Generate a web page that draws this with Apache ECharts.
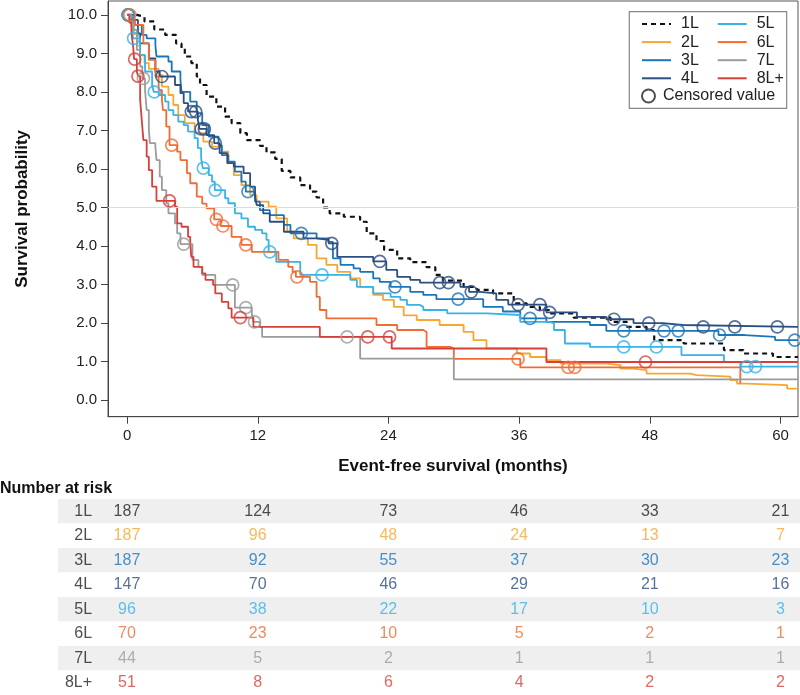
<!DOCTYPE html>
<html>
<head>
<meta charset="utf-8">
<script src="https://cdn.jsdelivr.net/npm/echarts@6/dist/echarts.min.js"></script>
<style>html,body{margin:0;padding:0;background:#fff;}#chart{width:800px;height:695px;}</style>
</head>
<body>
<div id="chart"></div>
<script>
// ---------- data ----------
const groups = ['1L','2L','3L','4L','5L','6L','7L','8L+'];
const xTicks = [0,12,24,36,48,60];
const yTicks = [0,1,2,3,4,5,6,7,8,9,10];

const km1L = [[0,10],[0.9,9.95],[1.6,9.83],[2.5,9.62],[3.5,9.48],[4.5,9.26],[5.0,9.13],[5.3,8.92],[5.9,8.75],[6.4,8.4],[6.7,8.18],[7.3,7.88],[8.2,7.62],[9.0,7.36],[9.6,7.19],[10.4,6.93],[11.0,6.75],[12.2,6.6],[12.8,6.43],[13.6,6.26],[14.2,5.95],[15.0,5.78],[15.9,5.58],[16.8,5.41],[17.4,5.26],[18.0,5.0],[18.6,4.85],[19.9,4.76],[21.4,4.63],[22.0,4.33],[22.9,4.13],[23.6,3.9],[24.8,3.68],[26.0,3.58],[27.5,3.45],[28.3,3.25],[29.0,3.1],[30.9,2.94],[32.1,2.86],[33.6,2.77],[35.5,2.51],[36.7,2.42],[37.9,2.34],[38.8,2.25],[41.0,2.14],[44.4,2.03],[45.9,1.9],[47.7,1.82],[48.4,1.56],[51.1,1.47],[54.8,1.30],[56.6,1.21],[59.3,1.12],[61.6,1.12]];
const km2L = [[0,10],[0.3,9.8],[0.6,9.5],[0.9,9.2],[1.2,8.95],[1.6,8.75],[2.0,8.6],[2.9,8.44],[3.2,8.14],[3.8,7.92],[4.25,7.66],[4.7,7.4],[5.3,7.19],[6.2,6.93],[7.0,6.71],[7.8,6.58],[8.7,6.45],[9.3,6.15],[9.8,5.84],[10.5,5.58],[11.3,5.32],[11.9,5.15],[13.0,5.02],[13.7,4.72],[14.7,4.37],[15.3,4.2],[16.6,4.03],[17.4,3.68],[18.3,3.51],[19.3,3.33],[20.5,3.16],[21.4,2.94],[22.6,2.73],[23.5,2.6],[24.5,2.42],[25.4,2.2],[26.6,2.08],[28.7,1.95],[30.9,1.77],[31.8,1.56],[33.0,1.34],[35.8,1.21],[37.0,1.12],[38.5,1.04],[39.8,0.95],[44.0,0.91],[45.3,0.82],[46.5,0.78],[47.7,0.69],[51.7,0.65],[52.3,0.61],[55.4,0.52],[56.0,0.43],[56.9,0.39],[60.6,0.3],[61.6,0.3]];
const km3L = [[0,10],[0.4,9.85],[0.7,9.74],[1.35,9.48],[1.8,9.39],[2.6,9.22],[2.7,8.92],[3.8,8.79],[4.1,8.53],[4.9,8.31],[5.0,8.0],[5.8,7.75],[6.4,7.45],[6.9,7.14],[7.5,6.84],[8.4,6.62],[8.7,6.36],[9.3,6.19],[9.9,5.93],[10.5,5.67],[10.9,5.41],[11.75,5.15],[12.2,4.93],[13.1,4.8],[14.4,4.55],[15.0,4.33],[17.4,4.2],[18.5,4.11],[18.9,3.68],[19.6,3.51],[20.8,3.42],[21.4,3.33],[22.6,3.16],[23.2,3.07],[24.2,2.94],[26.0,2.81],[27.2,2.73],[28.4,2.62],[32.7,2.42],[34.5,2.3],[36.1,2.12],[38.5,2.03],[42.5,1.95],[44.0,1.8],[54.3,1.69],[56.7,1.64],[59.5,1.56],[61.6,1.56]];
const km4L = [[0,10],[0.6,9.87],[1.0,9.52],[1.2,9.26],[2.0,8.87],[2.6,8.53],[3.0,8.4],[4.4,8.18],[4.9,7.97],[5.2,7.71],[5.6,7.49],[6.5,7.27],[6.65,7.04],[7.3,6.88],[8.0,6.67],[8.5,6.41],[9.2,6.15],[9.8,6.06],[10.7,5.89],[11.3,5.54],[11.75,5.28],[11.9,5.06],[12.5,4.85],[13.1,4.63],[14.4,4.37],[16.2,4.2],[17.4,4.16],[18.5,4.07],[19.3,3.72],[22.6,3.6],[23.8,3.38],[24.8,3.2],[26.0,3.12],[26.9,3.05],[30.6,2.94],[31.4,2.81],[32.4,2.77],[33.9,2.6],[35.0,2.48],[38.5,2.28],[41.3,2.16],[44.0,2.1],[46.5,2.0],[49.2,1.95],[51.0,1.9],[61.6,1.9]];
const km5L = [[0,10],[0.4,9.74],[0.55,9.39],[1.2,8.96],[1.65,8.53],[2.3,8.18],[2.45,8.0],[2.9,7.92],[3.5,7.75],[3.8,7.53],[4.25,7.4],[4.7,7.23],[5.2,7.14],[5.6,6.97],[6.2,6.8],[6.5,6.54],[6.8,6.28],[6.95,6.02],[7.5,5.84],[7.8,5.67],[8.05,5.45],[9.0,5.24],[9.3,5.11],[9.9,4.85],[10.5,4.72],[11.1,4.5],[11.75,4.42],[12.4,4.33],[12.8,4.16],[13.0,3.85],[13.7,3.59],[15.9,3.25],[20.5,3.12],[21.1,2.94],[22.6,2.77],[24.2,2.68],[25.1,2.6],[25.7,2.47],[26.9,2.42],[27.2,2.34],[29.4,2.25],[33.0,2.21],[36.1,2.03],[38.8,1.99],[39.2,1.82],[40.2,1.47],[42.5,1.38],[50.9,1.17],[54.8,0.99],[56.3,0.87],[61.6,0.87]];
const km6L = [[0,10],[0.3,9.9],[0.7,9.74],[1.5,9.26],[2.0,8.83],[2.6,8.4],[2.9,8.05],[3.2,7.79],[3.3,7.53],[3.6,7.1],[3.9,6.62],[4.6,6.45],[4.9,6.23],[5.5,5.89],[5.8,5.63],[6.4,5.28],[6.9,5.1],[7.3,4.98],[8.0,4.69],[8.6,4.52],[9.6,4.24],[10.5,4.03],[11.45,3.85],[13.9,3.64],[14.8,3.46],[15.2,3.33],[15.5,3.2],[16.8,3.07],[17.4,2.68],[17.7,2.34],[18.3,2.12],[22.9,1.95],[24.8,1.82],[27.2,1.77],[27.5,1.38],[29.7,1.34],[30.0,1.07],[36.1,0.85],[56.3,0.43]];
const km7L = [[0,10],[0.3,9.8],[0.6,9.61],[0.9,9.09],[1.2,8.66],[1.4,8.35],[1.65,8.05],[1.8,7.53],[2.0,7.01],[2.1,6.67],[2.6,6.58],[2.7,6.23],[3.0,5.8],[3.2,5.45],[3.6,5.11],[3.8,4.85],[4.4,4.59],[4.6,4.33],[4.9,4.05],[6.0,3.64],[6.55,3.46],[6.9,3.25],[8.1,2.99],[9.9,2.4],[11.45,2.25],[11.6,2.03],[12.2,1.9],[12.4,1.64],[21.4,1.08],[30.0,0.54],[61.6,0.54]];
const km8L = [[0,10],[0.2,9.8],[0.4,9.52],[0.55,9.2],[0.65,8.85],[0.9,8.53],[1.0,8.41],[1.2,7.79],[1.35,7.27],[1.5,6.75],[1.8,6.32],[2.0,5.97],[2.3,5.54],[2.7,5.17],[4.4,5.02],[4.6,4.59],[5.0,4.5],[5.6,4.24],[5.8,4.07],[5.9,3.72],[6.1,3.46],[6.9,3.29],[7.2,3.12],[7.9,2.99],[8.1,2.77],[8.7,2.55],[9.3,2.38],[9.6,2.14],[11.6,1.9],[17.7,1.64],[24.3,1.34],[38.5,0.99],[61.6,0.99]];

const cens2L = [];
const cens1L = [];
const cens3L = [[0.1,10],[11.1,5.41],[16.0,4.33],[24.6,2.94],[30.4,2.62],[37.0,2.12],[45.6,1.8],[49.3,1.8],[50.6,1.8],[54.4,1.69],[61.3,1.56]];
const cens4L = [[0.1,10],[3.2,8.4],[5.9,7.49],[6.3,7.49],[6.8,7.04],[7.1,7.04],[8.1,6.67],[18.8,4.07],[23.2,3.6],[28.7,3.05],[29.5,3.05],[31.6,2.81],[35.9,2.48],[37.9,2.48],[38.8,2.28],[44.7,2.1],[47.9,2.0],[52.9,1.9],[55.8,1.9],[59.7,1.9]];
const cens5L = [[0.1,10],[0.6,9.39],[2.5,8.0],[7.0,6.02],[8.1,5.45],[13.1,3.85],[17.9,3.25],[45.6,1.38],[48.6,1.38],[56.9,0.87],[57.7,0.87]];
const cens6L = [[0.25,10],[4.1,6.62],[8.2,4.69],[8.8,4.52],[10.9,4.03],[15.6,3.2],[35.9,1.07],[40.5,0.85],[41.1,0.85]];
const cens7L = [[1.5,8.35],[5.2,4.05],[9.7,2.99],[10.9,2.4],[11.7,2.03],[20.2,1.64]];
const cens8L = [[0.7,8.85],[1.0,8.41],[3.9,5.17],[10.4,2.14],[22.1,1.64],[24.1,1.64],[47.6,0.99]];

const risk1L = [187,124,73,46,33,21];
const risk2L = [187,96,48,24,13,7];
const risk3L = [187,92,55,37,30,23];
const risk4L = [147,70,46,29,21,16];
const risk5L = [96,38,22,17,10,3];
const risk6L = [70,23,10,5,2,1];
const risk7L = [44,5,2,1,1,1];
const risk8L = [51,8,6,4,2,2];

// ---------- styles ----------
const colors = ['#111111','#F8A630','#1B75BB','#2D4E80','#36B3E9','#F26B35','#9B9B9B','#D7403A'];
const kmAll = [km1L,km2L,km3L,km4L,km5L,km6L,km7L,km8L];
const censAll = [cens1L,cens2L,cens3L,cens4L,cens5L,cens6L,cens7L,cens8L];
const riskAll = [risk1L,risk2L,risk3L,risk4L,risk5L,risk6L,risk7L,risk8L];
const FONT = '"Liberation Sans", Arial, Helvetica, sans-serif';

const series = [];
groups.forEach((g,i)=>{
  series.push({
    name:g, type:'line', step:'end', data:kmAll[i], symbol:'none', showSymbol:false,
    xAxisIndex:0, yAxisIndex:0, z:2+i*0.01,
    itemStyle:{color:colors[i]},
    lineStyle:{color:colors[i], width: i===0?2.2:1.8, type: i===0?[5,4]:'solid'},
    emphasis:{disabled:true},
    markLine: i===0 ? {silent:true, symbol:'none', label:{show:false},
      lineStyle:{color:'#dcdcdc', width:1, type:'solid'}, data:[{yAxis:5}]} : undefined
  });
});
const censData = [];
censAll.forEach((arr,i)=>arr.forEach(p=>censData.push({value:p, itemStyle:{borderColor:colors[i]}})));
series.push({
  name:'Censored value', type:'scatter', data:censData, symbol:'circle', symbolSize:12,
  xAxisIndex:0, yAxisIndex:0, z:5,
  itemStyle:{color:'rgba(0,0,0,0)', borderColor:'#222', borderWidth:1.7},
  emphasis:{disabled:true}
});
// risk table
const riskData = [];
groups.forEach((g,i)=>riskAll[i].forEach((n,j)=>riskData.push({value:[xTicks[j], g, n], label:{color: i===0?'#222':colors[i]}})));
series.push({
  type:'scatter', data:riskData, symbolSize:0, xAxisIndex:1, yAxisIndex:1, silent:true,
  label:{show:true, position:'inside', align:'center', verticalAlign:'middle', fontSize:16, fontFamily:FONT,
    formatter:p=>String(p.value[2])}
});
series.push({
  type:'scatter', data:groups.map(g=>[-3.2, g]), symbolSize:0, xAxisIndex:1, yAxisIndex:1, silent:true,
  label:{show:true, position:'inside', align:'right', verticalAlign:'middle', fontSize:16, fontFamily:FONT, color:'#222',
    formatter:p=>p.value[1]}
});

const legendText = {fontSize:16, fontFamily:FONT, color:'#222', lineHeight:18, padding:[0,0,0,5]};
const lineLegend = {orient:'vertical', top:15, padding:0, itemGap:0.1, itemWidth:29, itemHeight:14,
  textStyle:legendText, selectedMode:false, itemStyle:{opacity:0}, z:4};
const option = {
  animation:false,
  backgroundColor:'#fff',
  title:{text:'Number at risk', left:0, top:481, padding:0,
    textStyle:{fontSize:16, fontWeight:'bold', fontFamily:FONT, color:'#111'}},
  grid:[
    {left:108, top:1, width:690, height:415.7, show:true, borderColor:'#555', borderWidth:1, backgroundColor:'rgba(0,0,0,0)'},
    {left:58, top:499, width:742, height:202}
  ],
  xAxis:[
    {type:'value', gridIndex:0, min:-1.75, max:61.6,
      name:'Event-free survival (months)', nameLocation:'middle', nameGap:41,
      nameTextStyle:{fontSize:17, fontWeight:'bold', fontFamily:FONT, color:'#111'},
      axisLine:{onZero:false, lineStyle:{color:'#444', width:1}},
      axisTick:{show:true, length:7, lineStyle:{color:'#444'}, customValues:xTicks},
      axisLabel:{fontSize:15, fontFamily:FONT, color:'#222', margin:12, customValues:xTicks},
      splitLine:{show:false}},
    {type:'value', gridIndex:1, min:-6.33, max:61.79, show:false}
  ],
  yAxis:[
    {type:'value', gridIndex:0, min:-0.43, max:10.36,
      name:'Survival probability', nameLocation:'middle', nameGap:77,
      nameTextStyle:{fontSize:17, fontWeight:'bold', fontFamily:FONT, color:'#111'},
      axisLine:{show:true, onZero:false, lineStyle:{color:'#444', width:1}},
      axisTick:{show:true, length:7, lineStyle:{color:'#444'}, customValues:yTicks},
      axisLabel:{fontSize:15, fontFamily:FONT, color:'#222', margin:11, customValues:yTicks, formatter:v=>v.toFixed(1)},
      splitLine:{show:false}},
    {type:'category', gridIndex:1, data:groups, inverse:true,
      axisLine:{show:false}, axisTick:{show:false}, axisLabel:{show:false},
      splitLine:{show:false},
      splitArea:{show:true, areaStyle:{color:['#efefef','#ffffff']}}}
  ],
  legend:[
    Object.assign({data:['1L','2L','3L','4L'], left:641}, lineLegend),
    Object.assign({data:['5L','6L','7L','8L+'], left:716.7}, lineLegend),
    {data:['Censored value'], orient:'vertical', left:629.3, top:11.7, padding:[75.3,11.6,3.3,11.7],
      itemWidth:13, itemHeight:13, borderColor:'#888', borderWidth:1.2, backgroundColor:'#fff',
      textStyle:{fontSize:16, fontFamily:FONT, color:'#222', lineHeight:18, padding:[0,0,0,3]}, selectedMode:false, z:3}
  ],
  series:series
};
const chart = echarts.init(document.getElementById('chart'), null, {renderer:'canvas'});
chart.setOption(option);
</script>
</body>
</html>
